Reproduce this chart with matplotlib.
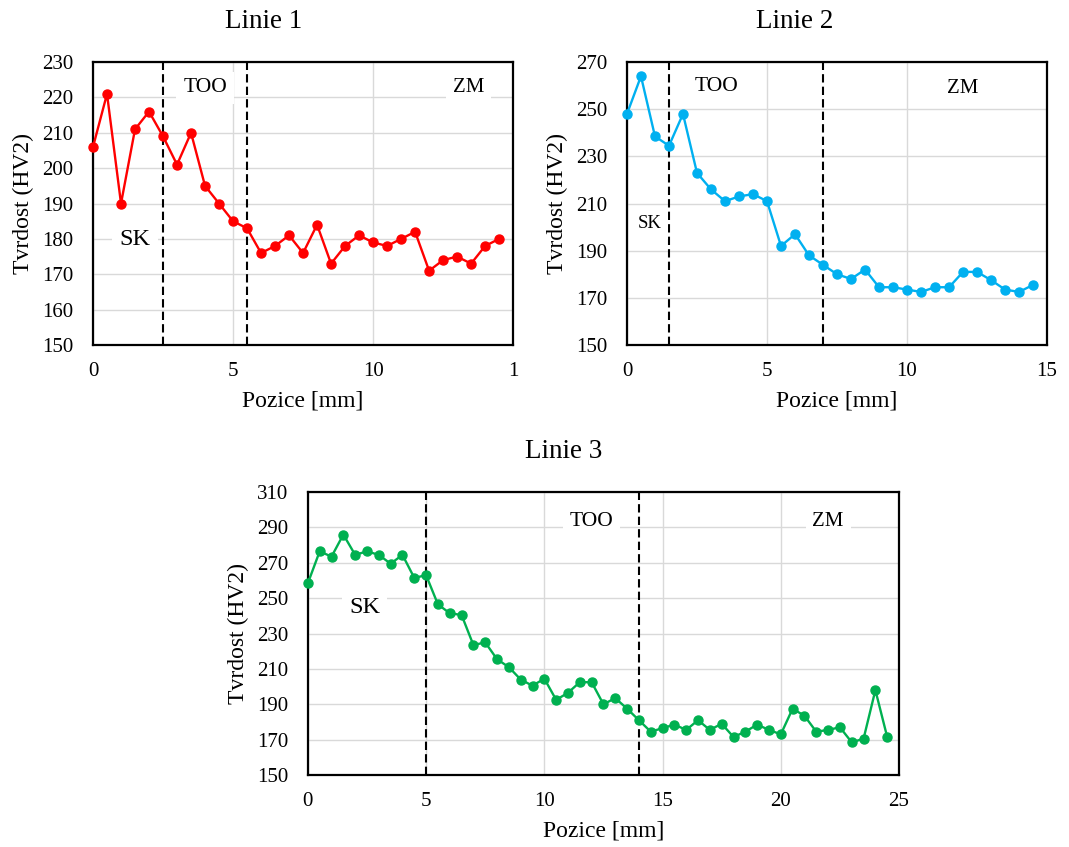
import numpy as np
import matplotlib
matplotlib.use("Agg")
import matplotlib.pyplot as plt

plt.rcParams['font.family'] = ['Liberation Serif', 'DejaVu Serif']

# Linie 1 - measured every 0.5 mm
pos1 = np.arange(0, 15, 0.5)
hv1 = [206, 221, 190, 211, 216, 209, 201, 210, 195, 190,
       185, 183, 176, 178, 181, 176, 184, 173, 178, 181,
       179, 178, 180, 182, 171, 174, 175, 173, 178, 180]
bounds1 = [2.5, 5.5]
xticks1 = [0, 5, 10, 15]
xticklabels1 = ['0', '5', '10', '1']
yticks1 = [150, 160, 170, 180, 190, 200, 210, 220, 230]

# Linie 2
pos2 = np.arange(0, 15, 0.5)
hv2 = [248, 264, 238.5, 234.5, 248, 223, 216, 211, 213, 214,
       211, 192, 197, 188, 184, 180, 178, 182, 174.5, 174.5,
       173.5, 172.5, 174.5, 174.5, 181, 181, 177.5, 173.5, 172.5, 175.5]
bounds2 = [1.5, 7.0]
xticks2 = [0, 5, 10, 15]
xticklabels2 = ['0', '5', '10', '15']
yticks2 = [150, 170, 190, 210, 230, 250, 270]

# Linie 3
pos3 = np.arange(0, 25, 0.5)
hv3 = [258.5, 276.5, 273.5, 286, 274.5, 276.5, 274.5, 269.5, 274.5, 261.5,
       263, 246.5, 241.5, 240.5, 223.5, 225, 215.5, 211, 204, 200.5,
       204.5, 192.5, 196.5, 202.5, 202.5, 190, 193.5, 187.5, 181, 174.5,
       176.5, 178.5, 175.5, 181, 175.5, 179, 171.5, 174.5, 178.5, 175.5,
       173, 187.5, 183.5, 174.5, 175.5, 177, 168.5, 170.5, 198, 171.5]
bounds3 = [5.0, 14.0]
xticks3 = [0, 5, 10, 15, 20, 25]
xticklabels3 = ['0', '5', '10', '15', '20', '25']
yticks3 = [150, 170, 190, 210, 230, 250, 270, 290, 310]

fig = plt.figure(figsize=(10.69, 8.47), dpi=100)
ax1 = fig.add_axes([0.087, 0.5927, 0.393, 0.334])
ax2 = fig.add_axes([0.5865, 0.5927, 0.393, 0.334])
ax3 = fig.add_axes([0.288, 0.085, 0.553, 0.334])


def style(ax, title, tx, xticks, xlabels, yticks, xmax):
    ax.set_xlim(0, xmax)
    ax.set_ylim(yticks[0], yticks[-1])
    ax.set_xticks(xticks)
    ax.set_xticklabels(xlabels)
    ax.set_yticks(yticks)
    ax.tick_params(length=0, labelsize=15)
    ax.tick_params(axis='x', pad=12)
    ax.tick_params(axis='y', pad=14)
    ax.grid(True, color='#d9d9d9', linewidth=1)
    ax.set_axisbelow(True)
    for s in ax.spines.values():
        s.set_linewidth(1.6)
        s.set_color('black')
    ax.set_xlabel('Pozice [mm]', fontsize=17, labelpad=7)
    ax.set_ylabel('Tvrdost (HV2)', fontsize=17, labelpad=6)
    ax.text(tx, 1.142, title, transform=ax.transAxes, ha='center', va='center', fontsize=19.5)


def zone(ax, x, y, s, size):
    ax.text(x, y, s, ha='center', va='center', fontsize=size, zorder=3,
            bbox=dict(facecolor='white', edgecolor='none', pad=5))


style(ax1, 'Linie 1', 0.405, xticks1, xticklabels1, yticks1, 15)
ax1.plot(pos1, hv1, color='#ff0000', marker='o', markersize=6.5, linewidth=1.7, zorder=4, clip_on=False)
for b in bounds1:
    ax1.axvline(b, color='black', linestyle='--', linewidth=1.5, dashes=(4, 2), zorder=2)
zone(ax1, 4.0, 222.7, 'TOO', 15.5)
zone(ax1, 13.4, 222.7, 'ZM', 15)
zone(ax1, 1.5, 179.7, 'SK', 17.5)

style(ax2, 'Linie 2', 0.4, xticks2, xticklabels2, yticks2, 15)
ax2.plot(pos2, hv2, color='#00b0f0', marker='o', markersize=6.5, linewidth=1.7, zorder=4, clip_on=False)
for b in bounds2:
    ax2.axvline(b, color='black', linestyle='--', linewidth=1.5, dashes=(4, 2), zorder=2)
zone(ax2, 3.2, 259.5, 'TOO', 15.5)
zone(ax2, 12.0, 259, 'ZM', 15)
zone(ax2, 0.8, 201.4, 'SK', 13.5)

style(ax3, 'Linie 3', 0.433, xticks3, xticklabels3, yticks3, 25)
ax3.plot(pos3, hv3, color='#00b050', marker='o', markersize=6.5, linewidth=1.7, zorder=4, clip_on=False)
for b in bounds3:
    ax3.axvline(b, color='black', linestyle='--', linewidth=1.5, dashes=(4, 2), zorder=2)
zone(ax3, 12.0, 293.6, 'TOO', 15.5)
zone(ax3, 22.0, 293.6, 'ZM', 15)
zone(ax3, 2.4, 245, 'SK', 17.5)

fig.savefig('out.png', dpi=100)
